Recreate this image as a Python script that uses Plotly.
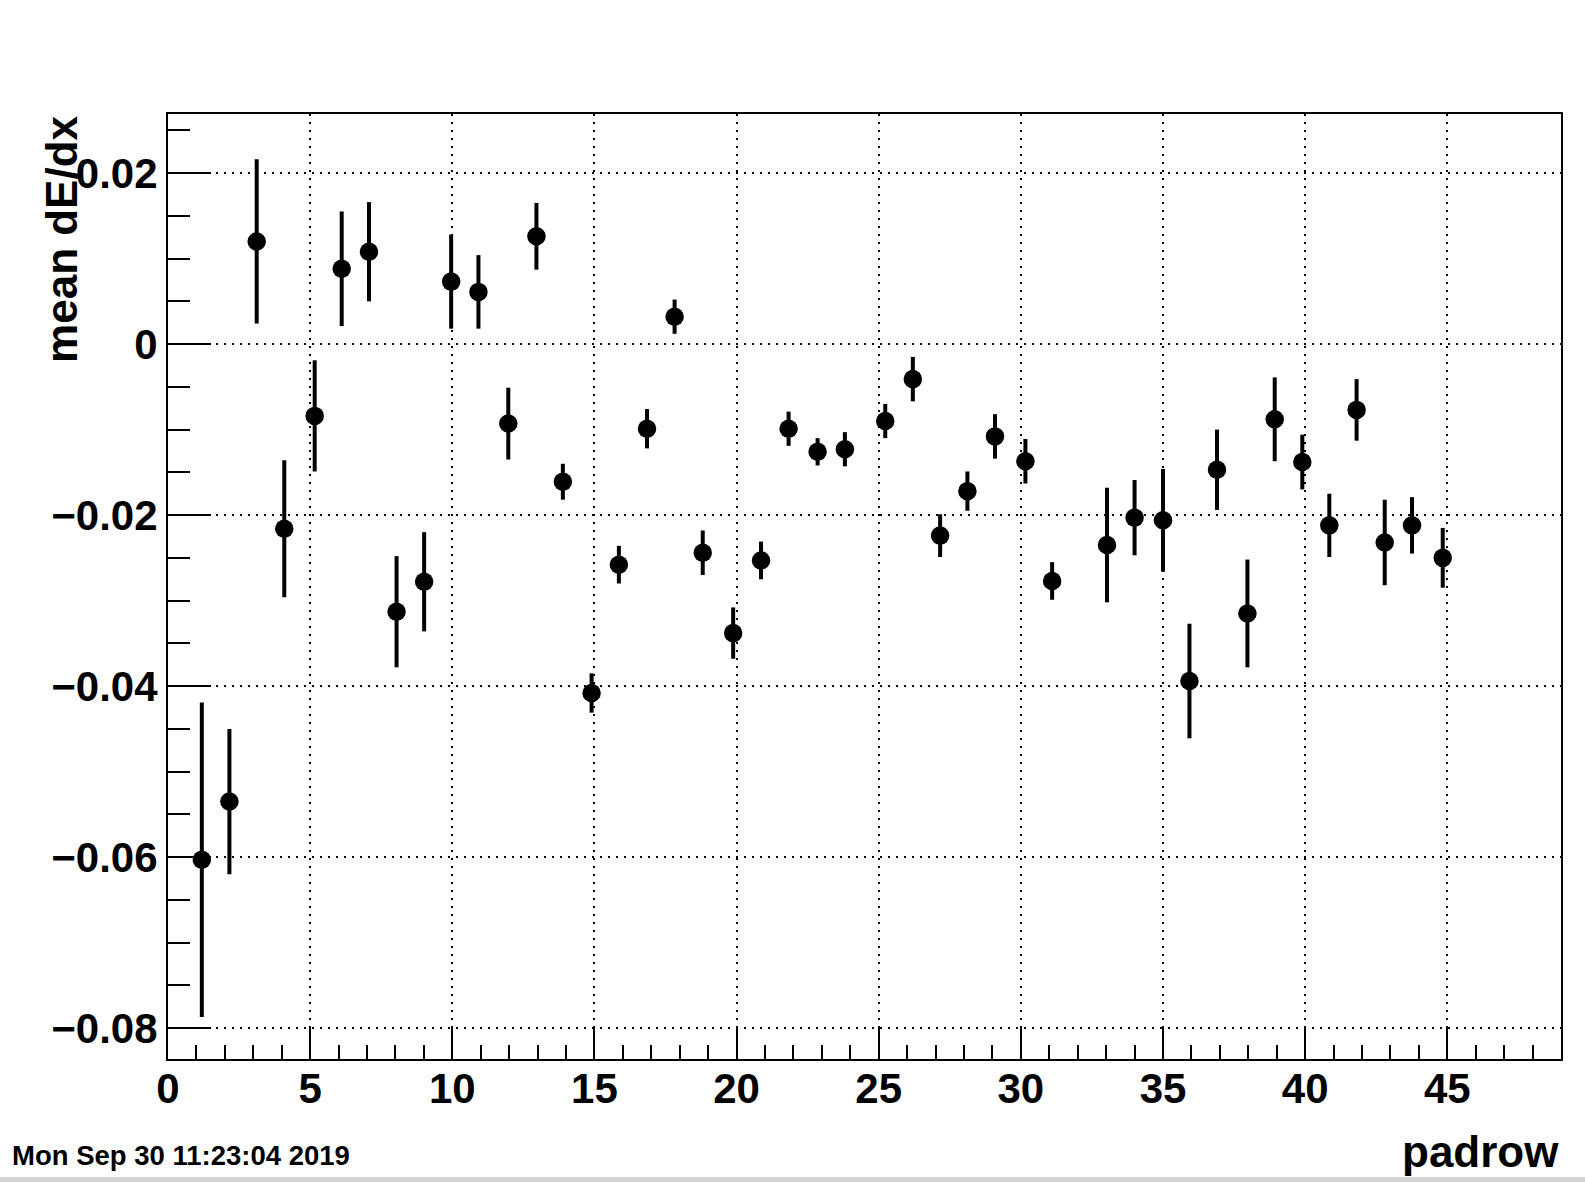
import plotly.graph_objects as go

# Data
padrow = [1.19, 2.16, 3.12, 4.09, 5.16, 6.11, 7.07, 8.04, 9.01, 9.96,
          10.92, 11.97, 12.96, 13.89, 14.90, 15.86, 16.85, 17.82, 18.81, 19.88,
          20.86, 21.83, 22.85, 23.81, 25.23, 26.20, 27.16, 28.12, 29.09, 30.16,
          31.10, 33.03, 34.00, 35.00, 35.93, 36.90, 37.97, 38.93, 39.90, 40.85,
          41.81, 42.80, 43.76, 44.84]
mean_dedx = [-0.0603, -0.0535, 0.0120, -0.0216, -0.0084, 0.0088, 0.0108, -0.0313, -0.0278, 0.0073,
             0.0061, -0.0093, 0.0126, -0.0161, -0.0408, -0.0258, -0.0099, 0.0032, -0.0244, -0.0338,
             -0.0253, -0.0099, -0.0126, -0.0123, -0.0090, -0.0041, -0.0224, -0.0172, -0.0108, -0.0137,
             -0.0277, -0.0235, -0.0203, -0.0206, -0.0394, -0.0147, -0.0315, -0.0088, -0.0138, -0.0212,
             -0.0077, -0.0232, -0.0212, -0.0250]
err = [0.0184, 0.0085, 0.0096, 0.0080, 0.0065, 0.0067, 0.0058, 0.0065, 0.0058, 0.0055,
       0.0043, 0.0042, 0.0039, 0.0021, 0.0023, 0.0022, 0.0023, 0.0020, 0.0026, 0.0030,
       0.0022, 0.0020, 0.0016, 0.0020, 0.0020, 0.0026, 0.0025, 0.0023, 0.0026, 0.0026,
       0.0022, 0.0067, 0.0044, 0.0060, 0.0067, 0.0047, 0.0063, 0.0049, 0.0032, 0.0037,
       0.0036, 0.0050, 0.0033, 0.0035]

x_title = "padrow"
y_title = "mean dE/dx"
date_text = "Mon Sep 30 11:23:04 2019"
x_range = [0, 49]
y_range = [-0.0836, 0.0269]

FONT = "Liberation Sans"

fig = go.Figure(go.Scatter(
    x=padrow, y=mean_dedx, mode="markers",
    marker=dict(color="black", size=18.5, symbol="circle"),
    error_y=dict(type="data", array=err, color="black", thickness=4, width=0),
))

common_axis = dict(
    showline=True, linecolor="black", linewidth=2, mirror=True,
    ticks="inside", tickcolor="black", tickwidth=2,
    showgrid=True, gridcolor="black", gridwidth=2, griddash="2px,6px",
    zeroline=False,
    tickfont=dict(family=FONT, size=42, color="black", weight="bold"),
)

fig.update_xaxes(range=x_range, tick0=0, dtick=5, ticklen=31, ticklabelstandoff=-8,
                 minor=dict(dtick=1, ticklen=14, ticks="inside", tickcolor="black",
                            tickwidth=2, showgrid=False),
                 **common_axis)
fig.update_yaxes(range=y_range, tick0=0, dtick=0.02, ticklen=43,
                 minor=dict(dtick=0.005, ticklen=22, ticks="inside", tickcolor="black",
                            tickwidth=2, showgrid=False),
                 **common_axis)

fig.update_layout(
    width=1585, height=1182,
    margin=dict(l=168, r=24, t=114, b=123, autoexpand=False),
    paper_bgcolor="white", plot_bgcolor="white",
    showlegend=False,
    font=dict(family=FONT, color="black"),
    annotations=[
        dict(text=y_title, textangle=-90, xref="paper", yref="paper",
             x=-0.0765, y=1.0, xanchor="center", yanchor="top", showarrow=False,
             font=dict(family=FONT, size=44, color="black", weight="bold")),
        dict(text=x_title, xref="paper", yref="paper",
             x=1.0, y=-0.098, xanchor="right", yanchor="middle", showarrow=False,
             font=dict(family=FONT, size=44, color="black", weight="bold")),
        dict(text=date_text, xref="paper", yref="paper",
             x=-0.1137, y=-0.1016, xanchor="left", yanchor="middle", showarrow=False,
             font=dict(family=FONT, size=27.5, color="black", weight="bold")),
    ],
    shapes=[
        dict(type="rect", xref="paper", yref="paper", x0=-0.2, x1=1.1,
             y0=-0.1302, y1=-0.1249, fillcolor="#d4d4d4", line=dict(width=0), layer="above"),
    ],
)

fig.write_html("out.html", config={"displayModeBar": False},
               post_script="document.body.style.margin='0';")
